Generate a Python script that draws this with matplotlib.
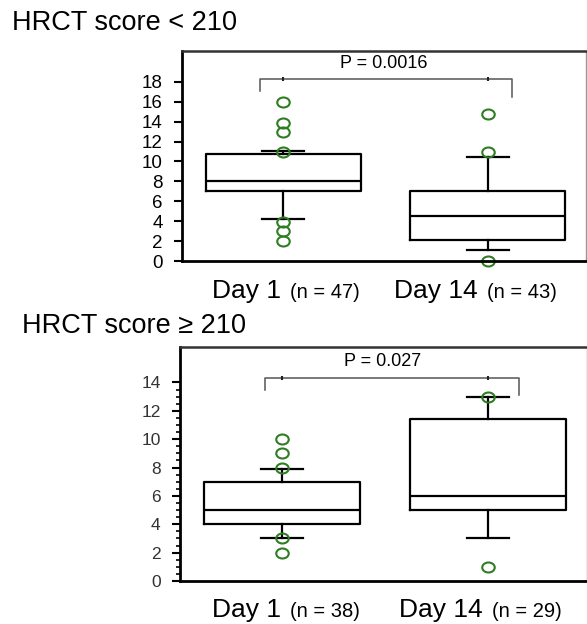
import matplotlib
matplotlib.use('Agg')
import matplotlib.pyplot as plt
from matplotlib.path import Path
from matplotlib.ticker import FixedLocator
import numpy as np

plt.rcParams['font.family'] = ['Liberation Sans', 'DejaVu Sans']

# data
groups = ['Day 1', 'Day 14']

# HRCT score < 210
low_n = [47, 43]
low_med = [8.0, 4.5]
low_q1 = [7.0, 2.1]
low_q3 = [10.8, 7.0]
low_whislo = [4.2, 1.1]
low_whishi = [11.1, 10.4]
low_fliers = [[16, 13.9, 13, 11, 3.9, 3, 2], [14.8, 11, 0]]
low_p = 'P = 0.0016'

# HRCT score >= 210
high_n = [38, 29]
high_med = [5.0, 6.0]
high_q1 = [4.0, 5.0]
high_q3 = [7.0, 11.45]
high_whislo = [3.0, 3.0]
high_whishi = [7.9, 13.0]
high_fliers = [[10, 9, 8, 3, 2], [13, 1]]
high_p = 'P = 0.027'

W, H = 587, 624
fig = plt.figure(figsize=(W / 100, H / 100), dpi=100)

green = '#2f7d22'
circ = Path.unit_circle()
ellipse = Path(circ.vertices * np.array([1.0, 0.8]), circ.codes)


def px(x0, y0, x1, y1):
    # axes rectangle from pixel box (top-left origin)
    return [x0 / W, 1 - y1 / H, (x1 - x0) / W, (y1 - y0) / H]


def panel(rect, med, q1, q3, lo, hi, fliers, ymax, yticks, tick_fs, tick_col, minor, p_text, br):
    ax = fig.add_axes(rect)
    stats = []
    for i in range(2):
        stats.append(dict(med=med[i], q1=q1[i], q3=q3[i], whislo=lo[i],
                          whishi=hi[i], fliers=fliers[i]))
    art = ax.bxp(stats, positions=[1, 2], widths=0.758, capwidths=0.205,
                 showfliers=True,
                 boxprops=dict(color='black', linewidth=1.6),
                 medianprops=dict(color='black', linewidth=1.6),
                 whiskerprops=dict(color='black', linewidth=1.6),
                 capprops=dict(color='black', linewidth=1.6),
                 flierprops=dict(marker=ellipse, markersize=9, markerfacecolor='none',
                                 markeredgecolor=green, markeredgewidth=1.5))
    for f in art['fliers']:
        f.set_clip_on(False)
    ax.set_xlim(0.504, 2.48)
    ax.set_ylim(0, ymax)
    ax.set_xticks([])
    ax.set_yticks(yticks)
    ax.set_yticklabels([str(t) for t in yticks])
    ax.tick_params(axis='y', length=6, width=1.5, pad=8, labelsize=tick_fs,
                   colors='black', labelcolor=tick_col)
    if minor:
        ax.yaxis.set_minor_locator(FixedLocator(np.arange(0.5, yticks[-1], 0.5)))
        ax.tick_params(axis='y', which='minor', length=3, width=1.2)
    ax.spines['left'].set_linewidth(2)
    ax.spines['bottom'].set_linewidth(2)
    ax.spines['top'].set_linewidth(1.8)
    ax.spines['top'].set_color('#333333')
    ax.spines['right'].set_linewidth(1)
    ax.spines['right'].set_color('#999999')

    # significance bracket
    xl, xr, ytop, yl, yr = br
    ax.plot([xl, xl, xr, xr], [yl, ytop, ytop, yr], color='#555555', lw=1.1)
    ax.plot([1, 2], [ytop, ytop], ls='none', marker='|', ms=3, color='#222222', mew=1.5)
    ax.text(1.49, ytop + (ymax - ytop) * 0.55, p_text, ha='center', va='center', fontsize=13)
    return ax


panel(px(182, 51, 586, 261), low_med, low_q1, low_q3, low_whislo, low_whishi,
      low_fliers, 21.1, list(range(0, 20, 2)), 13.5, 'black', False, low_p,
      (0.885, 2.12, 18.3, 17.1, 16.5))
panel(px(180, 347, 586.5, 581), high_med, high_q1, high_q3, high_whislo, high_whishi,
      high_fliers, 16.5, list(range(0, 16, 2)), 12.5, '#333333', True, high_p,
      (0.915, 2.15, 14.3, 13.5, 13.1))

# titles
fig.text(12 / W, 1 - 30 / H, 'HRCT score < 210', fontsize=19.5, va='baseline')
fig.text(22 / W, 1 - 333 / H, 'HRCT score ≥ 210', fontsize=19.5, va='baseline')

# group labels
for (xd, xn, yb, n) in [(212, 290, 298, low_n[0]), (394, 487, 298, low_n[1]),
                        (212, 290, 617, high_n[0]), (399, 492, 617, high_n[1])]:
    g = groups[0] if xd < 300 else groups[1]
    fig.text(xd / W, 1 - yb / H, g, fontsize=19, va='baseline')
    fig.text(xn / W, 1 - yb / H, f'(n = {n})', fontsize=14.5, va='baseline')

fig.savefig('out.png', dpi=100)
